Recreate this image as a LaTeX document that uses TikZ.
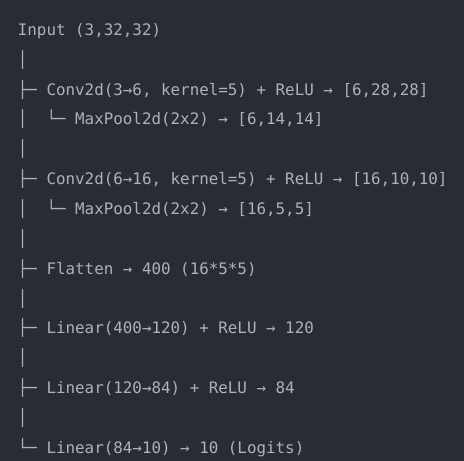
\documentclass[tikz,border=0pt]{standalone}
\usepackage{fontspec}
\setmonofont{DejaVu Sans Mono}
\usepackage{tikz}
\usetikzlibrary{positioning}
\definecolor{codebg}{HTML}{282C34}
\definecolor{codefg}{HTML}{ABB2BF}
\newcommand{\codefont}{\ttfamily\fontsize{15.86pt}{29.46pt}\selectfont}

\begin{document}
\begin{tikzpicture}[x=1pt, y=1pt, node distance=0pt,
    codeline/.style = {inner sep=0pt, text height=21pt, text depth=8.46pt, text=codefg, font=\codefont},
    nextline/.style = {codeline, below=of #1.south west, anchor=north west}]
        % Background
        \useasboundingbox (0,0) rectangle (464,461);
        \fill[codebg] (0,0) rectangle (464,461);

        % Lines
        \node (input) [codeline, anchor=base west] at (17.7,425.7) {Input (3,32,32)};
        \node (bar1) [nextline=input] {│};
        \node (conv1) [nextline=bar1] {├─ Conv2d(3→6, kernel=5) + ReLU → [6,28,28]};
        \node (pool1) [nextline=conv1] {│~~└─ MaxPool2d(2x2) → [6,14,14]};
        \node (bar2) [nextline=pool1] {│};
        \node (conv2) [nextline=bar2] {├─ Conv2d(6→16, kernel=5) + ReLU → [16,10,10]};
        \node (pool2) [nextline=conv2] {│~~└─ MaxPool2d(2x2) → [16,5,5]};
        \node (bar3) [nextline=pool2] {│};
        \node (flatten) [nextline=bar3] {├─ Flatten → 400 (16*5*5)};
        \node (bar4) [nextline=flatten] {│};
        \node (fc1) [nextline=bar4] {├─ Linear(400→120) + ReLU → 120};
        \node (bar5) [nextline=fc1] {│};
        \node (fc2) [nextline=bar5] {├─ Linear(120→84) + ReLU → 84};
        \node (bar6) [nextline=fc2] {│};
        \node (fc3) [nextline=bar6] {└─ Linear(84→10) → 10 (Logits)};
\end{tikzpicture}
\end{document}
